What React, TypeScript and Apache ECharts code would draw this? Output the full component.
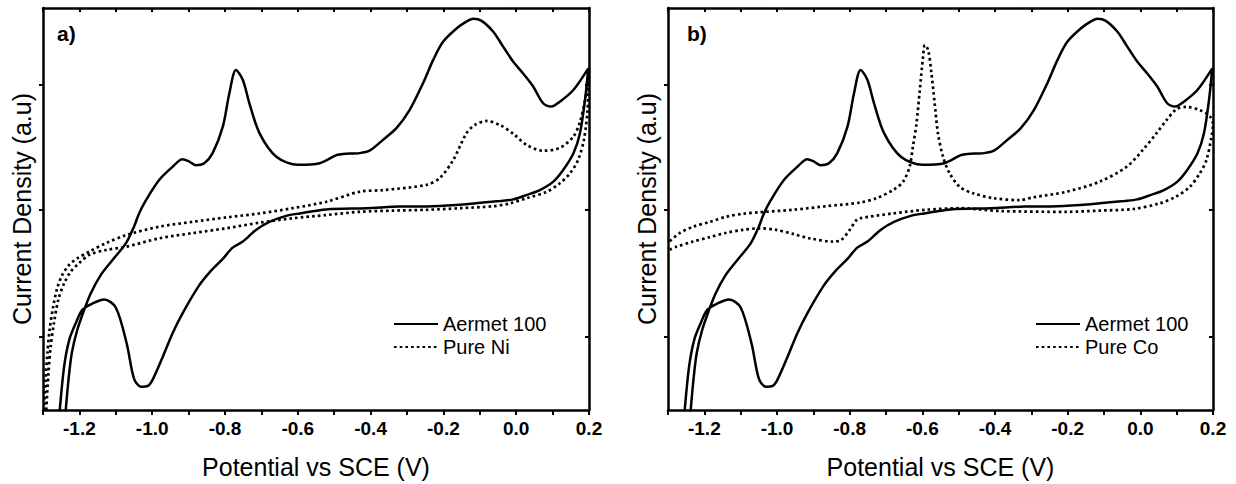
import React, { useEffect, useRef } from "react";
import * as echarts from "echarts";

// Potential (V vs SCE) / current density (a.u.) pairs
const aermetLoop: number[][] = [
  [-1.240, -3], [-1.2375, 0], [-1.230, 7.5], [-1.221, 14.1], [-1.206, 19.9], [-1.187, 24.9],
  [-1.169, 29.0], [-1.141, 33.6], [-1.109, 37.3], [-1.072, 41.5], [-1.050, 45.6], [-1.036, 48.9],
  [-1.017, 52.2], [-0.981, 57.2], [-0.944, 60.5], [-0.917, 62.4], [-0.898, 61.8], [-0.880, 60.9],
  [-0.857, 61.4], [-0.834, 63.9], [-0.806, 70.5], [-0.788, 78.8], [-0.770, 84.6], [-0.751, 82.1],
  [-0.733, 76.3], [-0.705, 68.8], [-0.659, 63.0], [-0.600, 61.0], [-0.540, 61.4], [-0.494, 63.4],
  [-0.476, 63.7], [-0.430, 63.9], [-0.403, 64.5], [-0.366, 67.2], [-0.329, 70.1], [-0.293, 74.6],
  [-0.256, 81.3], [-0.228, 87.1], [-0.201, 91.6], [-0.164, 94.9], [-0.137, 96.6], [-0.118, 97.3],
  [-0.095, 96.8], [-0.063, 94.1], [-0.036, 90.4], [-0.008, 86.6], [0.019, 83.7], [0.047, 80.4],
  [0.074, 76.3], [0.097, 75.5], [0.120, 76.7], [0.157, 79.6], [0.198, 85.0],
  [0.189, 77.1], [0.175, 68.8], [0.157, 63.8], [0.129, 59.7], [0.102, 56.8], [0.065, 54.7],
  [0.029, 53.5], [-0.008, 52.4], [-0.045, 52.0], [-0.091, 51.6], [-0.137, 51.2], [-0.228, 50.7],
  [-0.320, 50.6], [-0.412, 50.2], [-0.522, 49.9], [-0.595, 48.9], [-0.632, 48.3], [-0.678, 46.8],
  [-0.715, 44.8], [-0.751, 41.9], [-0.779, 40.4], [-0.806, 37.6], [-0.840, 34.5], [-0.871, 31.0],
  [-0.917, 24.0], [-0.944, 19.1], [-0.972, 13.0], [-0.999, 7.5], [-1.012, 6.0], [-1.031, 5.8],
  [-1.050, 7.8], [-1.070, 16.5], [-1.100, 25.5], [-1.132, 27.5], [-1.164, 26.5], [-1.192, 24.9],
  [-1.210, 21.6], [-1.228, 17.4], [-1.242, 10.8], [-1.254, 0], [-1.256, -3],
];

const pureNiLoop: number[][] = [
  [-1.298, -3], [-1.297, 0.4], [-1.293, 7.5], [-1.288, 14.1], [-1.282, 19.9], [-1.272, 25.7],
  [-1.261, 30.3], [-1.247, 33.6], [-1.228, 36.1], [-1.206, 37.7], [-1.173, 39.4], [-1.127, 41.5],
  [-1.072, 43.5], [-0.981, 45.6], [-0.889, 46.8], [-0.797, 47.9], [-0.705, 48.9], [-0.614, 50.2],
  [-0.522, 51.8], [-0.430, 54.3], [-0.366, 54.7], [-0.247, 56.0], [-0.210, 57.7], [-0.173, 62.2],
  [-0.137, 68.8], [-0.114, 70.9], [-0.081, 71.9], [-0.045, 70.9], [-0.008, 68.7], [0.029, 65.9],
  [0.074, 64.5], [0.120, 65.2], [0.157, 68.0], [0.175, 71.6], [0.189, 77.1], [0.200, 84.6],
  [0.196, 74.6], [0.186, 67.2], [0.170, 62.2], [0.148, 58.9], [0.120, 56.4], [0.084, 54.3],
  [0.029, 52.7], [-0.017, 51.4], [-0.063, 50.7], [-0.155, 50.2], [-0.247, 49.8], [-0.339, 49.6],
  [-0.430, 49.3], [-0.522, 48.5], [-0.614, 47.7], [-0.705, 46.6], [-0.797, 45.2], [-0.889, 44.0],
  [-0.981, 42.7], [-1.072, 40.6], [-1.127, 39.8], [-1.173, 38.6], [-1.201, 36.5], [-1.224, 34.4],
  [-1.242, 31.5], [-1.258, 27.4], [-1.270, 21.6], [-1.279, 15.7], [-1.285, 9.1], [-1.291, 0],
  [-1.292, -3],
];

const pureCoLoop: number[][] = [
  [-1.295, 42.0], [-1.268, 44.0], [-1.231, 45.6], [-1.185, 46.8], [-1.139, 48.1], [-1.094, 48.8],
  [-1.048, 49.2], [-0.956, 49.8], [-0.864, 50.7], [-0.772, 51.6], [-0.726, 52.7], [-0.681, 54.7],
  [-0.653, 56.8], [-0.635, 60.5], [-0.626, 65.5], [-0.616, 71.3], [-0.607, 79.6], [-0.598, 87.9],
  [-0.593, 90.8], [-0.584, 89.6], [-0.575, 83.8], [-0.566, 76.3], [-0.557, 68.8], [-0.543, 63.0],
  [-0.525, 58.9], [-0.497, 55.5], [-0.460, 53.9], [-0.405, 52.7], [-0.332, 52.2], [-0.295, 52.9],
  [-0.203, 54.3], [-0.112, 56.8], [-0.038, 60.5], [0.007, 64.7], [0.044, 68.8], [0.072, 72.1],
  [0.099, 74.8], [0.127, 75.4], [0.164, 74.6], [0.191, 73.1], [0.200, 71.1],
  [0.196, 68.0], [0.182, 62.2], [0.164, 58.9], [0.136, 55.5], [0.099, 53.1], [0.053, 51.4],
  [-0.020, 50.0], [-0.112, 49.6], [-0.203, 49.3], [-0.387, 49.5], [-0.497, 50.2], [-0.589, 49.8],
  [-0.681, 48.9], [-0.772, 47.7], [-0.781, 47.3], [-0.800, 44.8], [-0.823, 42.3], [-0.846, 41.9],
  [-0.910, 42.7], [-0.956, 43.8], [-1.002, 44.8], [-1.048, 45.2], [-1.094, 44.8], [-1.139, 44.1],
  [-1.185, 43.0], [-1.231, 41.9], [-1.277, 40.6], [-1.295, 39.9],
];

const yTickValues = [18.2, 49.7, 80.8];
const xTitle = "Potential vs SCE (V)";
const yTitle = "Current Density (a.u)";
const panelLabels = ["a)", "b)"];
const legendA = ["Aermet 100", "Pure Ni"];
const legendB = ["Aermet 100", "Pure Co"];

const FONT = '"Liberation Sans", Arial, Helvetica, sans-serif';

export default function App() {
  const ref = useRef<HTMLDivElement>(null);

  useEffect(() => {
    if (!ref.current) return;
    const chart = echarts.init(ref.current, undefined, { renderer: "svg" });

    const axisLine = { show: true, onZero: false, lineStyle: { color: "#000", width: 2.5 } };
    const grids = [
      { left: 43, top: 8, width: 546, height: 402 },
      { left: 668, top: 8, width: 545, height: 402 },
    ];

    const xAxes: any[] = [];
    const yAxes: any[] = [];
    [0, 1].forEach((g) => {
      xAxes.push({
        gridIndex: g, type: "value", min: -1.3, max: 0.2, interval: 0.1, position: "bottom",
        axisLine,
        axisTick: { show: true, inside: false, length: 5, lineStyle: { color: "#000", width: 2 } },
        axisLabel: {
          color: "#000", fontSize: 19, fontWeight: "bold", fontFamily: FONT, margin: 9,
          showMinLabel: true, showMaxLabel: true,
          formatter: (v: number) => (Math.round(v * 10) % 2 === 0 ? v.toFixed(1) : ""),
        },
        splitLine: { show: false },
        name: xTitle, nameLocation: "middle", nameGap: 44,
        nameTextStyle: { color: "#000", fontSize: 25, fontFamily: FONT },
      });
      xAxes.push({
        gridIndex: g, type: "value", min: -1.3, max: 0.2, interval: 0.1, position: "top",
        axisLine,
        axisTick: { show: true, inside: true, length: 4, lineStyle: { color: "#000", width: 2 } },
        axisLabel: { show: false }, splitLine: { show: false },
      });
      yAxes.push({
        gridIndex: g, type: "value", min: 0, max: 100, position: "left",
        axisLine,
        axisTick: { show: true, inside: false, length: 4, customValues: yTickValues, lineStyle: { color: "#000", width: 2 } },
        axisLabel: { show: false }, splitLine: { show: false },
        name: yTitle, nameLocation: "middle", nameGap: 9,
        nameTextStyle: { color: "#000", fontSize: 25, fontFamily: FONT },
      });
      yAxes.push({
        gridIndex: g, type: "value", min: 0, max: 100, position: "right",
        axisLine,
        axisTick: { show: true, inside: true, length: 4, customValues: yTickValues, lineStyle: { color: "#000", width: 2 } },
        axisLabel: { show: false }, splitLine: { show: false },
      });
    });

    const solid = { color: "#000", width: 2.5, type: "solid" };
    const dotted = { color: "#000", width: 2.7, type: [2.6, 3.1] };
    const mk = (name: string, data: number[][], g: number, ls: any) => ({
      type: "line", name, data, xAxisIndex: g * 2, yAxisIndex: g * 2,
      symbol: "none", showSymbol: false, smooth: 0.3, clip: true,
      lineStyle: ls, itemStyle: { color: "#000" }, emphasis: { disabled: true },
    });

    const legendCommon = {
      orient: "vertical", padding: 0, itemWidth: 44, itemHeight: 14, itemGap: 3,
      selectedMode: false,
      itemStyle: { opacity: 0, borderWidth: 0 },
      textStyle: { color: "#000", fontSize: 20, fontFamily: FONT },
    };

    chart.setOption({
      animation: false,
      backgroundColor: "#fff",
      title: panelLabels.map((t, i) => ({
        text: t, left: i === 0 ? 57 : 687, top: 23, padding: 0,
        textStyle: { color: "#000", fontSize: 21, fontWeight: "bold", fontFamily: FONT },
      })),
      grid: grids,
      xAxis: xAxes,
      yAxis: yAxes,
      legend: [
        { ...legendCommon, left: 393, top: 314, data: legendA },
        { ...legendCommon, left: 1035, top: 314, data: legendB },
      ],
      series: [
        mk("Aermet 100", aermetLoop, 0, solid),
        mk("Pure Ni", pureNiLoop, 0, dotted),
        mk("Aermet 100", aermetLoop, 1, solid),
        mk("Pure Co", pureCoLoop, 1, dotted),
      ],
    });

    return () => chart.dispose();
  }, []);

  return (
    <div
      ref={ref}
      style={{ position: "fixed", left: 0, top: 0, width: 1236, height: 484, background: "#fff" }}
    />
  );
}
